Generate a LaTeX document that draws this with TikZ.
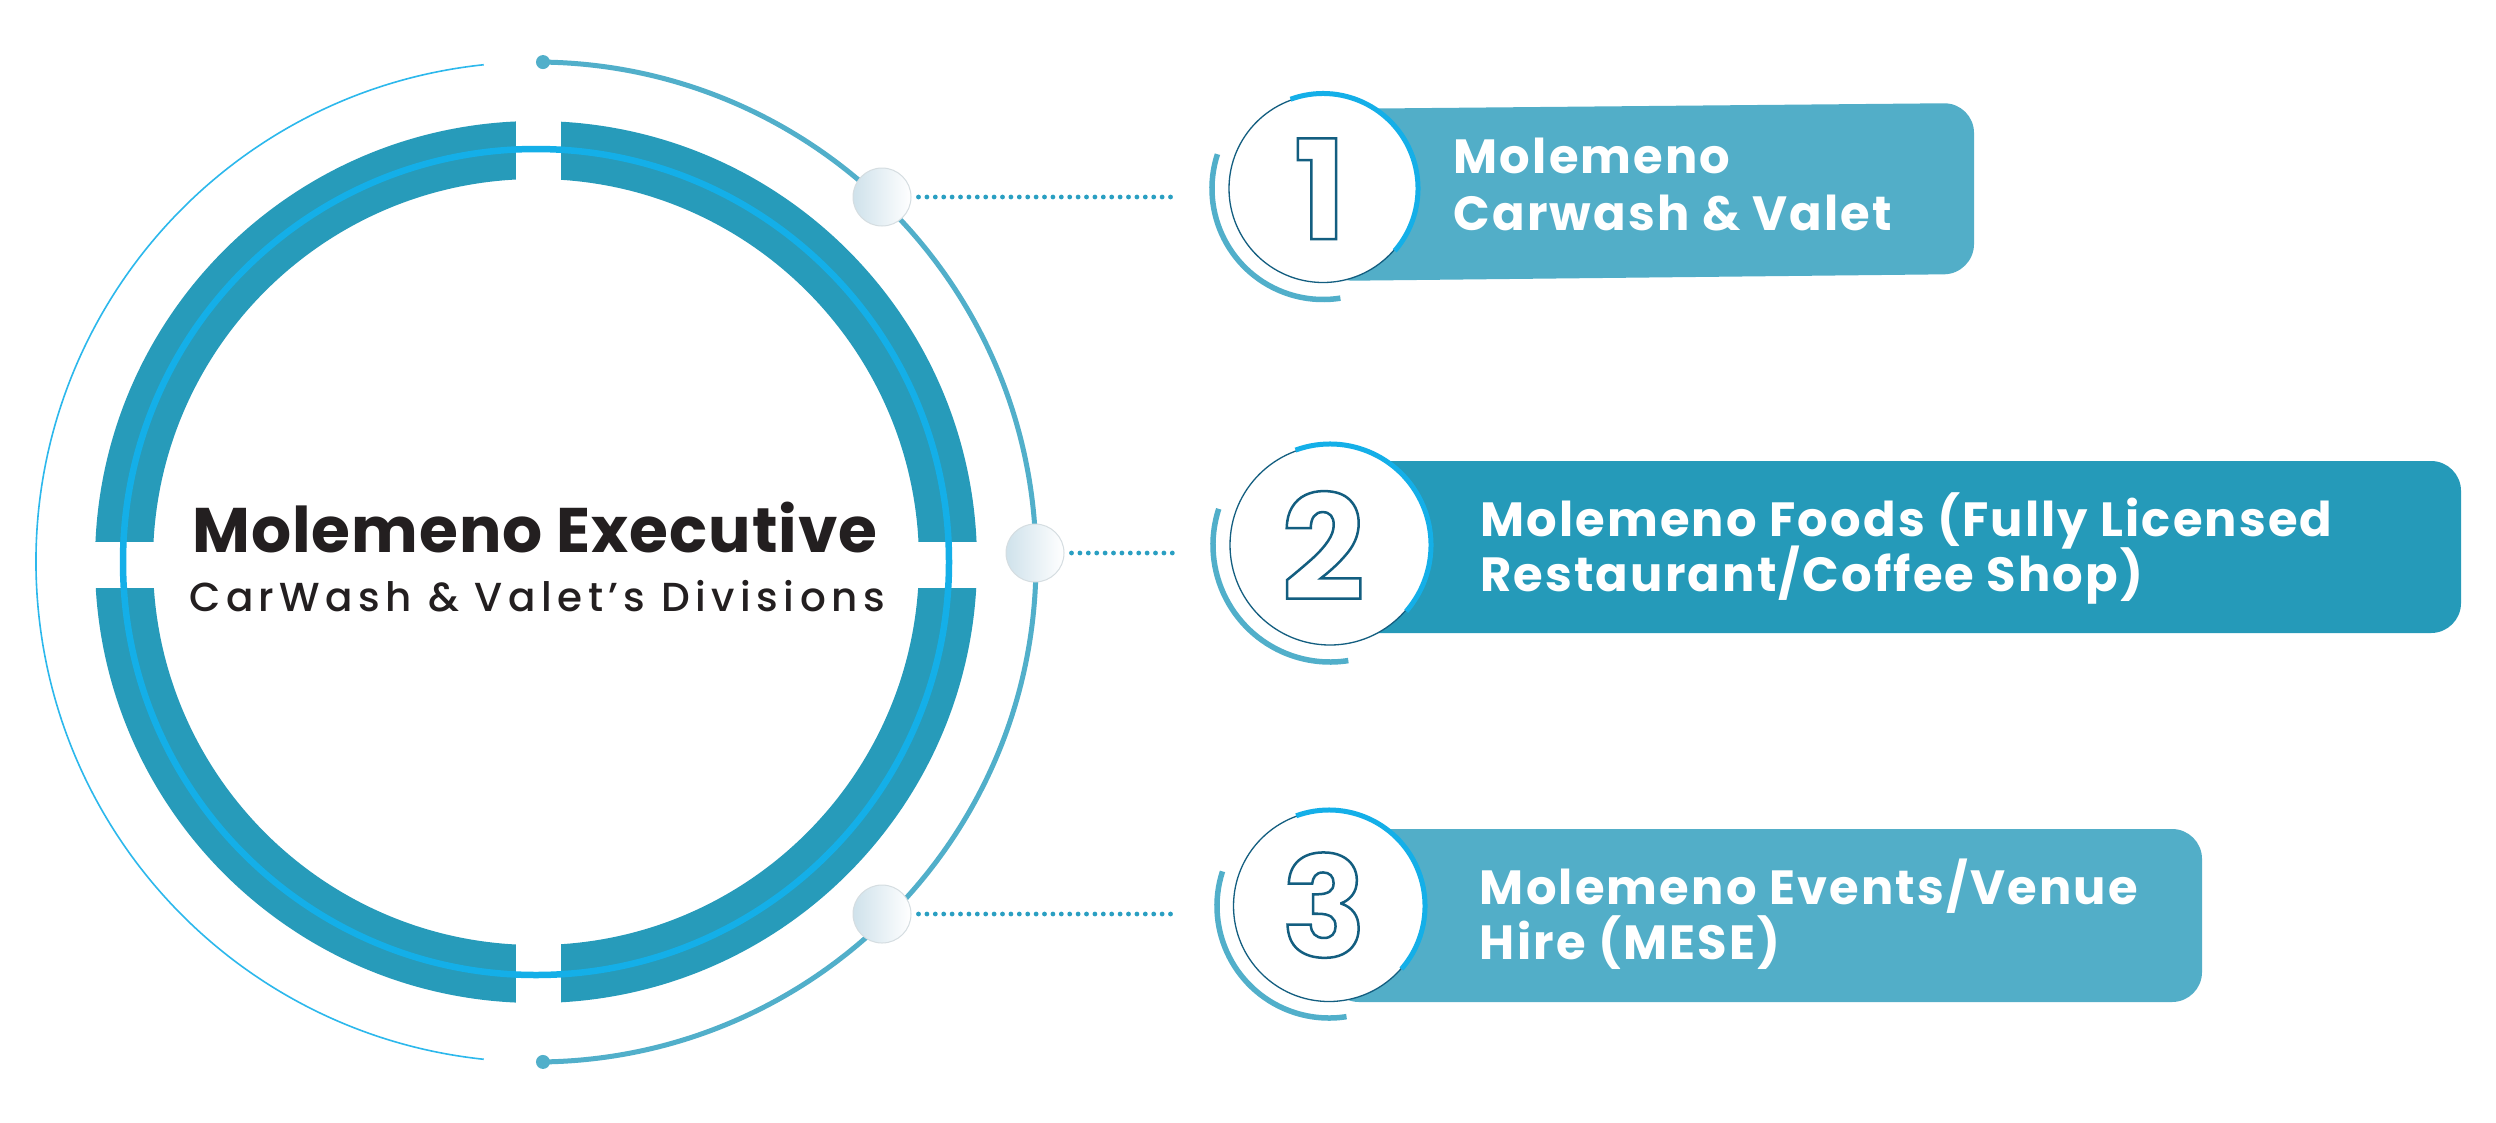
\documentclass[tikz,border=0pt]{standalone}
\usepackage{fontspec}
\setmainfont{Poppins}
\IfFontExistsTF{Poppins Medium}{\newfontfamily\popmed{Poppins Medium}}{\newfontfamily\popmed{Poppins}}
\usetikzlibrary{calc}
\definecolor{ringc}{HTML}{279BBA}
\definecolor{brightc}{HTML}{14AFE8}
\definecolor{arcc}{HTML}{51AFCA}
\definecolor{thinc}{HTML}{2CB8EC}
\definecolor{boxa}{HTML}{52AEC8}
\definecolor{boxb}{HTML}{259AB9}
\definecolor{numc}{HTML}{135E80}
\definecolor{dotc}{HTML}{2A9FC2}
\definecolor{bubl}{HTML}{CFE2EB}
\definecolor{bubb}{HTML}{D5DDE1}
\definecolor{txtc}{HTML}{231F20}
\newcommand\outlinedigit[1]{\special{pdf:literal direct 2 Tr 2.5 w 0.075 0.369 0.502 RG}#1\special{pdf:literal direct 0 Tr}}
\begin{document}
\begin{tikzpicture}[x=1pt,y=-1pt,
  bubble/.style={circle, minimum size=58pt, inner sep=0pt, draw=bubb, line width=1pt, left color=bubl, right color=white},
  dotline/.style={dotc, line width=4.8pt, line cap=round, dash pattern=on 0pt off 8.4pt, shorten <=7pt},
  numcircle/.style={circle, inner sep=0pt, fill=white, draw=numc, line width=1.3pt},
  outerarc/.style={arcc, line width=5.5pt},
  brightarc/.style={brightc, line width=5pt},
  boxtext/.style={anchor=base west, inner sep=0pt, text=white, font=\bfseries\fontsize{48}{58}\selectfont\addfontfeatures{LetterSpace=4.5}},
  digit/.style={anchor=base, inner sep=0pt, text=white}
]
\useasboundingbox (0,0) rectangle (2496,1122);
\fill[white] (0,0) rectangle (2496,1122);

\coordinate (C) at (536,562);
% outer left thin arc
\draw[thinc, line width=1.6pt] ($(C)+(-96:500)$) arc[start angle=-96, end angle=-264, radius=500];
% outer right arc with end dots
\draw[arcc, line width=5pt] ($(C)+(-89.2:500)$) arc[start angle=-89.2, end angle=89.2, radius=500];
\fill[arcc] ($(C)+(-89.2:500)$) circle[radius=7];
\fill[arcc] ($(C)+(89.2:500)$) circle[radius=7];

% thick ring with gaps
\draw[ringc, line width=58pt] (C) circle[radius=412];
\fill[white] (516,95) rectangle (561,200);
\fill[white] (516,925) rectangle (561,1030);
\fill[white] (70,542) rectangle (175,588);
\fill[white] (900,542) rectangle (1005,588);
\draw[brightc, line width=6.5pt] (C) circle[radius=413];

% centre text
\node[anchor=base, inner sep=0pt, text=txtc, font=\bfseries\fontsize{63}{70}\selectfont\addfontfeatures{LetterSpace=1.5}] (t1) at (535,552.7) {Molemeno Executive};
\node[anchor=base, inner sep=0pt, text=txtc, font=\popmed\fontsize{40.5}{48}\selectfont\addfontfeatures{LetterSpace=13.5}] (t2) at (537,611.7) {CarWash \& Valet’s Divisions};

% bubbles and dotted connectors
\node[bubble] (bub1) at (882,197) {};
\node[bubble] (bub2) at (1035,553) {};
\node[bubble] (bub3) at (882,914) {};
\coordinate (d1) at (1176,197);
\coordinate (d2) at (1178,553);
\coordinate (d3) at (1176,914);
\draw[dotline] (bub1.east) -- (d1);
\draw[dotline] (bub2.east) -- (d2);
\draw[dotline] (bub3.east) -- (d3);

% boxes
\fill[boxa, rounded corners=30pt] (1323,109) -- (1974,103) -- (1974,274) -- (1323,281) -- cycle;
\fill[boxb, rounded corners=30pt] (1330,461) rectangle (2461,633);
\fill[boxa, rounded corners=30pt] (1329,829) rectangle (2202,1002);

% numbered circles
\node[numcircle, minimum size=188pt] (n1) at (1323,188.5) {};
\draw[outerarc] ($(n1.center)+(-162:111)$) arc[start angle=-162, end angle=-279, radius=111];
\draw[brightarc] ($(n1.center)+(-110:95)$) arc[start angle=-110, end angle=41, radius=95];
\node[digit, font=\bfseries\fontsize{138}{140}\selectfont] (g1) at (1320,239) {\outlinedigit{1}};

\node[numcircle, minimum size=200pt] (n2) at (1330,545) {};
\draw[outerarc] ($(n2.center)+(-162:117)$) arc[start angle=-162, end angle=-279, radius=117];
\draw[brightarc] ($(n2.center)+(-110:101)$) arc[start angle=-110, end angle=41, radius=101];
\node[digit, font=\bfseries\fontsize{146}{150}\selectfont] (g2) at (1323,600) {\outlinedigit{2}};

\node[numcircle, minimum size=191pt] (n3) at (1329,906) {};
\draw[outerarc] ($(n3.center)+(-162:112)$) arc[start angle=-162, end angle=-279, radius=112];
\draw[brightarc] ($(n3.center)+(-110:96)$) arc[start angle=-110, end angle=41, radius=96];
\node[digit, font=\bfseries\fontsize{140}{144}\selectfont] (g3) at (1324,957) {\outlinedigit{3}};

% box texts
\node[boxtext] (b1a) at (1453.5,173.3) {Molemeno};
\node[boxtext] (b1b) at (1453.5,230.7) {Carwash \& Valet};
\node[boxtext] (b2a) at (1480,536) {Molemeno Foods (Fully Licensed};
\node[boxtext] (b2b) at (1480,591.7) {Restaurant/Coffee Shop)};
\node[boxtext] (b3a) at (1479.7,904) {Molemeno Events/Venue};
\node[boxtext] (b3b) at (1479.7,959.3) {Hire (MESE)};
\end{tikzpicture}
\end{document}
